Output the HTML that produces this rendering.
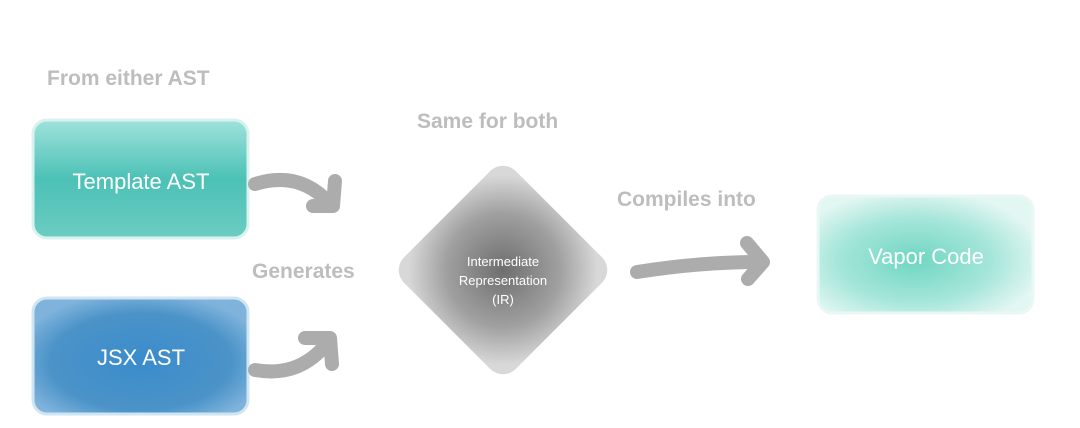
<!DOCTYPE html>
<html><head><style>
body{margin:0;background:#fff;}
svg text{font-family:"Liberation Sans",sans-serif;}
</style></head><body>
<svg width="1080" height="423" viewBox="0 0 1080 423" xmlns="http://www.w3.org/2000/svg">
<defs>
<linearGradient id="tg" x1="0" y1="0" x2="0" y2="1">
<stop offset="0" stop-color="#9fe3dc"/><stop offset="0.5" stop-color="#4cc1b6"/><stop offset="1" stop-color="#6cccc2"/></linearGradient>
<radialGradient id="jg" cx="0.5" cy="0.55" r="0.6">
<stop offset="0" stop-color="#3a8ccc"/><stop offset="0.7" stop-color="#4b93c8"/><stop offset="1" stop-color="#7fb3dc"/></radialGradient>
<radialGradient id="vg" cx="0.45" cy="0.55" r="0.6">
<stop offset="0" stop-color="#6fd6c2"/><stop offset="0.6" stop-color="#a6e6da"/><stop offset="1" stop-color="#e2f6f2"/></radialGradient>
<radialGradient id="dg" cx="0.5" cy="0.5" r="0.6">
<stop offset="0" stop-color="#6e6e6e"/><stop offset="0.6" stop-color="#a0a0a0"/><stop offset="1" stop-color="#d8d8d8"/></radialGradient>
</defs>
<text x="47" y="85" font-size="21" font-weight="bold" fill="#bdbdbd">From either AST</text>
<text x="417" y="128" font-size="21" font-weight="bold" fill="#bdbdbd">Same for both</text>
<text x="252" y="278" font-size="21" font-weight="bold" fill="#bdbdbd">Generates</text>
<text x="617" y="206" font-size="21" font-weight="bold" fill="#bdbdbd">Compiles into</text>

<rect x="33" y="120" width="215" height="118" rx="14" fill="url(#tg)" stroke="#d8f3ef" stroke-width="3"/>
<text x="141" y="189" font-size="22" fill="#fff" text-anchor="middle">Template AST</text>
<rect x="33" y="298" width="215" height="116" rx="14" fill="url(#jg)" stroke="#cfe6f2" stroke-width="3"/>
<text x="141" y="365" font-size="22" fill="#fff" text-anchor="middle">JSX AST</text>
<rect x="818" y="196" width="215" height="117" rx="14" fill="url(#vg)" stroke="#eaf8f5" stroke-width="3"/>
<text x="926" y="264" font-size="22" fill="#fff" text-anchor="middle">Vapor Code</text>

<rect x="424" y="191" width="158" height="158" rx="18" fill="url(#dg)" transform="rotate(45 503 270)"/>
<text x="503" y="266" font-size="13" fill="#fff" text-anchor="middle">Intermediate</text>
<text x="503" y="285" font-size="13" fill="#fff" text-anchor="middle">Representation</text>
<text x="503" y="304" font-size="13" fill="#fff" text-anchor="middle">(IR)</text>

<g fill="none" stroke="#acacac" stroke-width="14" stroke-linecap="round" stroke-linejoin="round">
<path d="M255 184 Q300 170 330 204"/>
<path d="M313 206 L333 206 L335 181"/>
<path d="M255 370 Q300 378 328 342"/>
<path d="M305 338 L330 338 L332 364"/>
<path d="M637 272 Q700 262 760 262"/>
<path d="M747 243 L763 262 L748 279"/>
</g>
</svg>
</body></html>
